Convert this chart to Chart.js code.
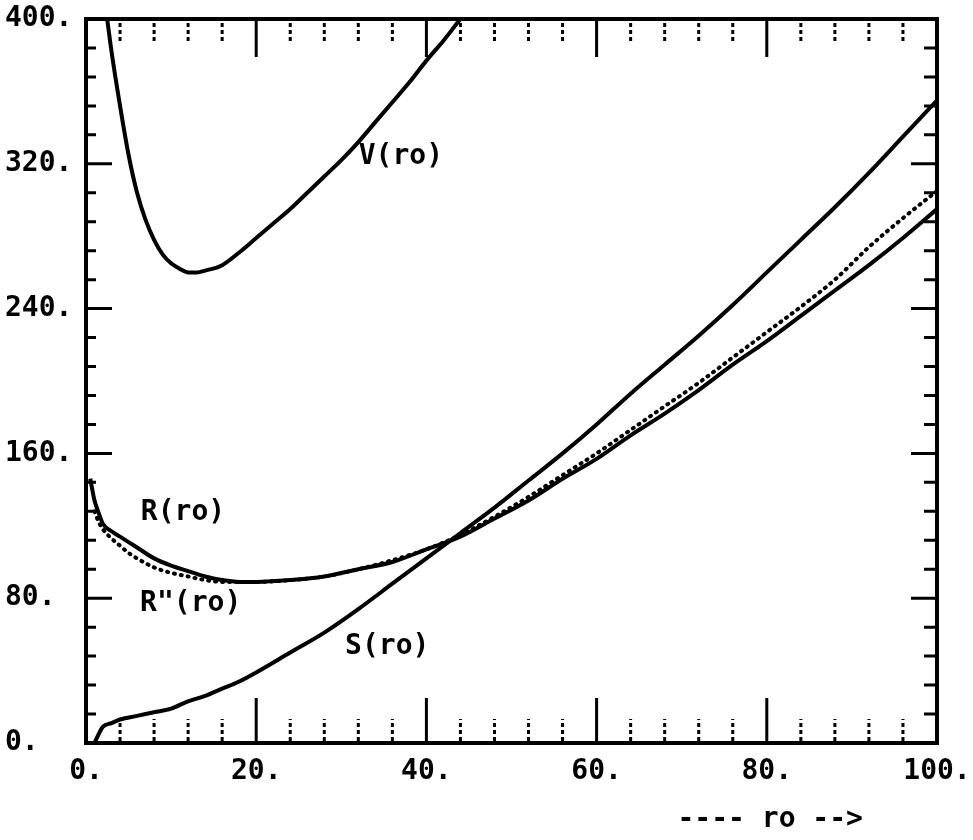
<!DOCTYPE html>
<html>
<head>
<meta charset="utf-8">
<script src="https://cdn.jsdelivr.net/npm/chart.js@4.4.0/dist/chart.umd.min.js"></script>
<style>
  body { margin: 0; background: #fff; }
  #wrap { width: 973px; height: 840px; position: relative; }
</style>
</head>
<body>
<div id="wrap"><canvas id="myChart"></canvas></div>
<script>
// ro values and curves
var roS = [1, 1.5, 2, 3, 4, 6, 8, 10, 12, 14, 16, 18, 20, 24, 28, 32, 36, 40, 44, 48, 52, 56, 60, 64, 68, 72, 76, 80, 84, 88, 92, 96, 100];
var sVals = [0, 5, 9, 11, 13, 15, 17, 19, 23, 26, 30, 34, 39, 50, 61, 74, 88, 102, 116, 130, 145, 160, 176, 193, 209, 225, 242, 260, 278, 296, 315, 335, 355];

var roR = [0.5, 1, 1.5, 2, 3, 4, 5, 6, 8, 10, 12, 14, 16, 18, 20, 24, 28, 32, 36, 40, 44, 48, 52, 56, 60, 64, 68, 72, 76, 80, 84, 88, 92, 96, 100];
var rVals = [146, 134, 127, 121, 117, 114, 111, 108, 102, 98, 95, 92, 90, 89, 89, 90, 92, 96, 100, 107, 114, 124, 134, 146, 157, 170, 182, 195, 209, 222, 236, 250, 264, 279, 295];

var roRs = [1, 1.5, 2, 3, 4, 5, 6, 8, 10, 12, 14, 16, 18, 20, 24, 28, 32, 36, 40, 44, 48, 52, 56, 60, 64, 68, 72, 76, 80, 84, 88, 92, 96, 100];
var rsVals = [128, 122, 118, 113, 109, 105, 102, 97, 94, 92, 90, 89, 89, 89, 90, 92, 96, 101, 107, 115, 125, 136, 148, 160, 173, 186, 199, 213, 227, 241, 256, 274, 290, 305];

var roV = [2, 3, 4, 5, 6, 7, 8, 9, 10, 11, 12, 13, 14, 16, 18, 20, 22, 24, 26, 28, 30, 32, 34, 36, 38, 40, 42, 44, 46];
var vVals = [418, 382, 352, 325, 304, 289, 278, 270, 265, 262, 260, 260, 261, 264, 271, 279, 287, 295, 304, 313, 322, 332, 343, 354, 365, 377, 388, 400, 411];

var xTicks = [0, 20, 40, 60, 80, 100];
var yTicks = [0, 80, 160, 240, 320, 400];

var curveLabels = [
  { text: 'V(ro)', x: 37, y: 324 },
  { text: 'R(ro)', x: 11.4, y: 127 },
  { text: 'R"(ro)', x: 12.3, y: 77 },
  { text: 'S(ro)', x: 35.4, y: 53 }
];
var axisTitle = '---- ro -->';

function pts(xs, ys) {
  return xs.map(function (v, i) { return { x: v, y: ys[i] }; });
}

var labelFont = 'bold 28px "DejaVu Sans Mono"';

var framePlugin = {
  id: 'framePlugin',
  afterDatasetsDraw: function (chart) {
    var ctx = chart.ctx, a = chart.chartArea;
    var x = chart.scales.x, y = chart.scales.y;
    ctx.save();
    ctx.strokeStyle = '#000';
    ctx.fillStyle = '#000';
    ctx.lineCap = 'butt';

    // x ticks, top and bottom, pointing inward
    for (var v = 4; v < 100; v += 4) {
      var px = x.getPixelForValue(v);
      ctx.beginPath();
      if (v % 20 === 0) {
        ctx.setLineDash([]);
        ctx.lineWidth = 3;
        ctx.moveTo(px, a.bottom); ctx.lineTo(px, a.bottom - 45);
        ctx.moveTo(px, a.top); ctx.lineTo(px, a.top + 38);
      } else {
        ctx.setLineDash([4, 3]);
        ctx.lineWidth = 3;
        ctx.moveTo(px, a.bottom - 2); ctx.lineTo(px, a.bottom - 24);
        ctx.moveTo(px, a.top + 4); ctx.lineTo(px, a.top + 24);
      }
      ctx.stroke();
    }
    ctx.setLineDash([]);

    // y ticks, left and right
    for (var w = 16; w < 400; w += 16) {
      var py = y.getPixelForValue(w);
      ctx.beginPath();
      ctx.lineWidth = 3;
      if (w % 80 === 0) {
        ctx.moveTo(a.left, py); ctx.lineTo(a.left + 26, py);
        ctx.moveTo(a.right, py); ctx.lineTo(a.right - 26, py);
      } else {
        ctx.moveTo(a.left, py); ctx.lineTo(a.left + 10, py);
        ctx.moveTo(a.right, py); ctx.lineTo(a.right - 13, py);
      }
      ctx.stroke();
    }

    // frame
    ctx.lineWidth = 4;
    ctx.strokeRect(a.left, a.top, a.right - a.left, a.bottom - a.top);

    // curve labels
    ctx.font = labelFont;
    ctx.textAlign = 'center';
    ctx.textBaseline = 'middle';
    curveLabels.forEach(function (l) {
      ctx.fillText(l.text, x.getPixelForValue(l.x), y.getPixelForValue(l.y));
    });

    // axis title
    ctx.fillText(axisTitle, x.getPixelForValue(80.4), 820);
    ctx.restore();
  }
};

var solid = {
  borderColor: '#000',
  borderWidth: 4,
  pointRadius: 0,
  fill: false,
  cubicInterpolationMode: 'monotone'
};

var ctx = document.getElementById('myChart').getContext('2d');
var myChart = new Chart(ctx, {
  type: 'line',
  data: {
    datasets: [
      Object.assign({ label: 'V(ro)', data: pts(roV, vVals) }, solid),
      Object.assign({ label: 'R(ro)', data: pts(roR, rVals) }, solid),
      Object.assign({ label: 'S(ro)', data: pts(roS, sVals) }, solid),
      Object.assign({}, solid, {
        label: 'R"(ro)',
        data: pts(roRs, rsVals),
        borderWidth: 4,
        borderDash: [1, 6],
        borderCapStyle: 'round'
      })
    ]
  },
  options: {
    responsive: true,
    maintainAspectRatio: false,
    animation: false,
    layout: { padding: { left: 5, right: 36, top: 19, bottom: 0 } },
    plugins: {
      legend: { display: false },
      tooltip: { enabled: false }
    },
    scales: {
      x: {
        type: 'linear',
        min: 0,
        max: 100,
        afterFit: function (s) { s.height = 97; s.paddingLeft = 0; s.paddingRight = 0; },
        afterBuildTicks: function (s) { s.ticks = xTicks.map(function (v) { return { value: v }; }); },
        grid: { display: false, drawTicks: false },
        border: { display: false },
        ticks: {
          color: '#000',
          padding: 12,
          maxRotation: 0,
          font: { family: 'DejaVu Sans Mono', weight: 'bold', size: 28 },
          callback: function (v) { return v + '.'; }
        }
      },
      y: {
        min: 0,
        max: 400,
        afterFit: function (s) { s.width = 81; s.paddingTop = 0; s.paddingBottom = 0; },
        afterBuildTicks: function (s) { s.ticks = yTicks.map(function (v) { return { value: v }; }); },
        grid: { display: false, drawTicks: false },
        border: { display: false },
        ticks: {
          color: '#000',
          crossAlign: 'far',
          font: { family: 'DejaVu Sans Mono', weight: 'bold', size: 28 },
          callback: function (v) { return v + '.'; }
        }
      }
    }
  },
  plugins: [framePlugin]
});
</script>
</body>
</html>
